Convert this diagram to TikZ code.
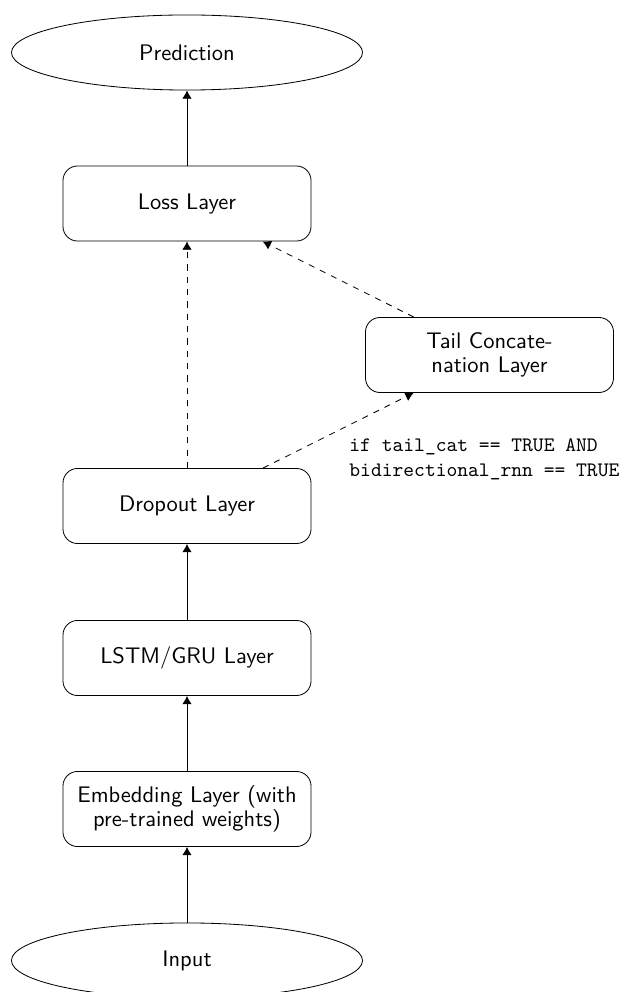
\documentclass[tikz,border=0pt]{standalone}
\usetikzlibrary{shapes.geometric,arrows.meta}
\begin{document}
\begin{tikzpicture}[x=0.4862pt,y=-0.4862pt,font=\sffamily\fontsize{10.95}{11.8}\selectfont,
  layer/.style={draw,rounded corners=7.1pt,minimum width=120.6pt,minimum height=36.5pt,align=center,inner sep=2pt},
  terminal/.style={draw,ellipse,minimum width=170.7pt,minimum height=36.5pt,inner sep=0pt},
  flow/.style={-{Latex[length=4pt,width=4.6pt]}},
  optional/.style={flow,dashed}]
  \useasboundingbox (0,0) rectangle (621,992);

  % network stack
  \node[terminal] (pred) at (187,52.5) {Prediction};
  \node[layer] (loss) at (187,203.5) {Loss Layer};
  \node[layer] (tail) at (489.5,355) {Tail Concate-\\nation Layer};
  \node[layer] (drop) at (187,506) {Dropout Layer};
  \node[layer] (rnn) at (187,658) {LSTM/GRU Layer};
  \node[layer] (emb) at (187,809) {Embedding Layer (with\\pre-trained weights)};
  \node[terminal] (in) at (187,960.5) {Input};

  % condition for the tail branch
  \node[anchor=west,align=left,inner sep=0pt,font=\ttfamily\fontsize{10}{12}\selectfont] (cond) at (349,459)
    {if tail\_cat == TRUE AND\\bidirectional\_rnn == TRUE};

  % connections
  \draw[flow] (in) -- (emb);
  \draw[flow] (emb) -- (rnn);
  \draw[flow] (rnn) -- (drop);
  \draw[flow] (loss) -- (pred);
  \draw[optional] (drop) -- (loss);
  \draw[optional] (drop) -- (tail);
  \draw[optional] (tail) -- (loss);
\end{tikzpicture}
\end{document}
